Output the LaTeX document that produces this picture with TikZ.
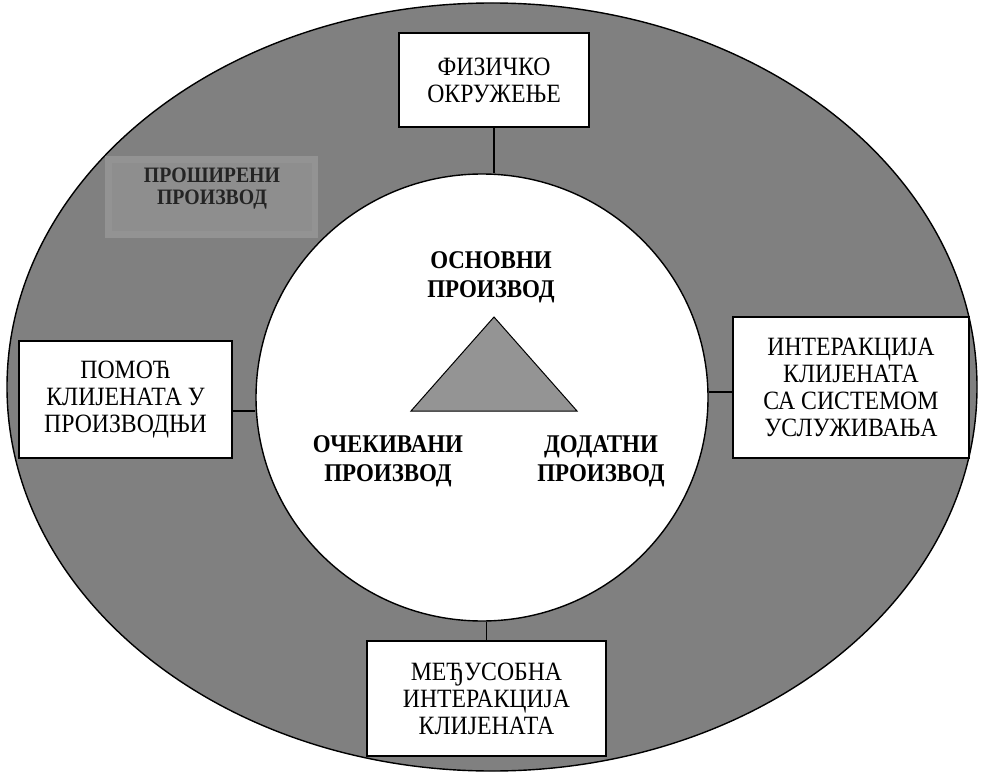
\documentclass[tikz,border=0pt]{standalone}
\usepackage{fontspec}
\setmainfont{Liberation Serif}
\newfontfamily\narrowserif{Liberation Serif}[FakeStretch=0.9]
\usetikzlibrary{shapes.geometric}

\definecolor{ringgray}{gray}{0.50}
\definecolor{bandgray}{gray}{0.575}
\definecolor{labelgray}{gray}{0.555}
\definecolor{trigray}{gray}{0.58}
\definecolor{darktext}{gray}{0.14}

\tikzset{
  infobox/.style={draw=black, line width=1.1pt, fill=white, inner sep=0pt,
    align=center, font=\narrowserif\fontsize{26.4}{27}\selectfont},
  corelabel/.style={align=center, font=\narrowserif\bfseries\fontsize{25.5}{29}\selectfont},
  link/.style={draw=black, line width=1.1pt},
}

\begin{document}
\begin{tikzpicture}[x=1pt, y=-1pt]
  \useasboundingbox (0,0) rectangle (981,775);
  \fill[white] (0,0) rectangle (981,775);

  % outer ring: the augmented product
  \draw[line width=1.4pt, fill=ringgray] (492,387) ellipse [x radius=485pt, y radius=384pt];

  % label patch with soft lighter rim
  \fill[bandgray] (105,156) rectangle (318,238);
  \fill[labelgray] (112,163) rectangle (312,231);
  \node[font=\narrowserif\bfseries\fontsize{22}{22}\selectfont, text=darktext, align=center]
    (ext) at (212,189) {ПРОШИРЕНИ\\ПРОИЗВОД};

  % inner core
  \node[ellipse, draw=black, line width=1.4pt, fill=white, inner sep=0pt,
        minimum width=452pt, minimum height=447pt] (core) at (482,397.5) {};

  % core triangle
  \coordinate (tA) at (494,317);
  \coordinate (tB) at (411,411);
  \coordinate (tC) at (577,411);
  \draw[line width=1pt, fill=trigray, line join=miter] (tA) -- (tB) -- (tC) -- cycle;

  \node[corelabel] (basic) at (491,277) {ОСНОВНИ\\ПРОИЗВОД};
  \node[corelabel] (expected) at (388,461) {ОЧЕКИВАНИ\\ПРОИЗВОД};
  \node[corelabel] (added) at (601,461) {ДОДАТНИ\\ПРОИЗВОД};

  % surrounding boxes
  \node[infobox, minimum width=190pt, minimum height=94pt] (phys) at (494,80)
    {ФИЗИЧКО\\ОКРУЖЕЊЕ};
  \node[infobox, minimum width=213pt, minimum height=117pt] (help) at (125.5,399.5)
    {ПОМОЋ\\КЛИЈЕНАТА У\\ПРОИЗВОДЊИ};
  \node[infobox, minimum width=236pt, minimum height=141pt] (inter) at (851,387.5)
    {ИНТЕРАКЦИЈА\\КЛИЈЕНАТА\\СА СИСТЕМОМ\\УСЛУЖИВАЊА};
  \node[infobox, minimum width=239pt, minimum height=115pt] (mutual) at (486.5,698.5)
    {МЕЂУСОБНА\\ИНТЕРАКЦИЈА\\КЛИЈЕНАТА};

  % connectors from boxes to the core
  \coordinate (helpEnd) at (232,411);
  \coordinate (interEnd) at (733,392);
  \draw[link] (phys.south) -- (phys.south |- core.north);
  \draw[link] (helpEnd) -- (helpEnd -| core.west);
  \draw[link] (interEnd) -- (interEnd -| core.east);
  \draw[link] (mutual.north) -- (mutual.north |- core.south);
\end{tikzpicture}
\end{document}
